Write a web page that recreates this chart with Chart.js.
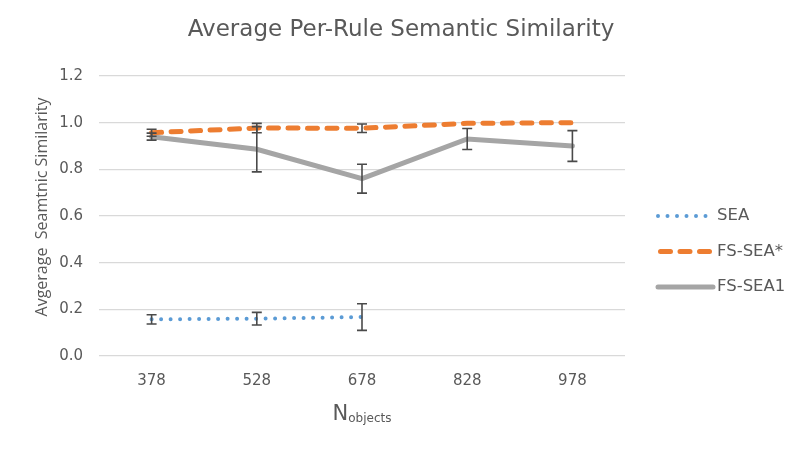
<!DOCTYPE html>
<html>
<head>
<meta charset="utf-8">
<script src="https://cdn.jsdelivr.net/npm/chart.js@4/dist/chart.umd.min.js"></script>
<style>
  html, body { margin: 0; padding: 0; background: #fff; }
  #wrap { width: 800px; height: 449px; }
</style>
</head>
<body>
<div id="wrap"><canvas id="chart"></canvas></div>
<script>
// values
const categories = ['378', '528', '678', '828', '978'];
const seaValues = [0.157, 0.16, 0.167, null, null];
const seaErrors = [0.02, 0.027, 0.057, null, null];
const fsSeaStarValues = [0.957, 0.977, 0.976, 0.997, 1.0];
const fsSeaStarErrors = [0.015, 0.02, 0.018, null, null];
const fsSea1Values = [0.94, 0.886, 0.76, 0.93, 0.9];
const fsSea1Errors = [0.015, 0.097, 0.062, 0.045, 0.066];
const yTicks = [0, 0.2, 0.4, 0.6, 0.8, 1.0, 1.2];

const chartTitle = 'Average Per-Rule Semantic Similarity';
const yTitle = 'Avgerage  Seamtnic Similarity';

const textColor = '#595959';
const wideFont = '"DejaVu Sans", sans-serif';
const openFont = '"Open Sans", "Liberation Sans", sans-serif';

// draws +/- error bars for every dataset that has an errors array
const errorBars = {
  id: 'errorBars',
  afterDatasetsDraw(chart) {
    const ctx = chart.ctx;
    const y = chart.scales.y;
    ctx.save();
    ctx.strokeStyle = '#4a4a4a';
    ctx.lineWidth = 1.6;
    chart.data.datasets.forEach((ds, i) => {
      if (!ds.errors) return;
      const meta = chart.getDatasetMeta(i);
      meta.data.forEach((pt, j) => {
        const v = ds.data[j], e = ds.errors[j];
        if (v == null || e == null) return;
        const x = pt.x;
        const top = y.getPixelForValue(v + e);
        const bot = y.getPixelForValue(v - e);
        ctx.beginPath();
        ctx.moveTo(x, top); ctx.lineTo(x, bot);
        ctx.moveTo(x - 5, top); ctx.lineTo(x + 5, top);
        ctx.moveTo(x - 5, bot); ctx.lineTo(x + 5, bot);
        ctx.stroke();
      });
    });
    ctx.restore();
  }
};

// title, y title, right-hand legend and the subscripted x axis title
const extras = {
  id: 'extras',
  afterDraw(chart) {
    const ctx = chart.ctx;
    const area = chart.chartArea;
    ctx.save();
    ctx.fillStyle = textColor;

    // chart title, centred on the whole picture
    ctx.font = '23px ' + wideFont;
    ctx.textAlign = 'center';
    ctx.textBaseline = 'alphabetic';
    ctx.fillText(chartTitle, 401, 36);

    // y axis title
    ctx.save();
    ctx.translate(42, 207);
    ctx.rotate(-Math.PI / 2);
    ctx.font = '16px ' + openFont;
    ctx.textBaseline = 'middle';
    ctx.fillText(yTitle, 0, 0);
    ctx.restore();

    // legend
    const x0 = 658, x1 = 713;
    const rows = [216, 251.5, 287];
    chart.data.datasets.forEach((ds, i) => {
      const yy = rows[i];
      ctx.beginPath();
      ctx.strokeStyle = ds.borderColor;
      ctx.lineWidth = ds.borderWidth;
      ctx.lineCap = ds.borderCapStyle || 'butt';
      ctx.setLineDash(ds.borderDash || []);
      ctx.lineDashOffset = ds.legendDashOffset || 0;
      ctx.moveTo(x0, yy); ctx.lineTo(x1, yy);
      ctx.stroke();
      ctx.setLineDash([]);
      ctx.font = '16.5px ' + wideFont;
      ctx.textBaseline = 'middle';
      ctx.textAlign = 'left';
      ctx.fillText(ds.label, 717, yy);
    });

    // x axis title: N with subscript "objects"
    ctx.font = '21px ' + wideFont;
    const wN = ctx.measureText('N').width;
    ctx.font = '12px ' + wideFont;
    const wSub = ctx.measureText('objects').width;
    const cx = (area.left + area.right) / 2;
    const start = cx - (wN + wSub) / 2;
    ctx.textBaseline = 'alphabetic';
    ctx.textAlign = 'left';
    ctx.font = '21px ' + wideFont;
    ctx.fillText('N', start, 420);
    ctx.font = '12px ' + wideFont;
    ctx.fillText('objects', start + wN, 422);
    ctx.restore();
  }
};

new Chart(document.getElementById('chart'), {
  type: 'line',
  data: {
    labels: categories,
    datasets: [
      {
        label: 'SEA',
        data: seaValues,
        errors: seaErrors,
        borderColor: '#5B9BD5',
        borderWidth: 4,
        borderDash: [0, 9.5],
        borderCapStyle: 'round',
        pointRadius: 0,
        fill: false,
        tension: 0
      },
      {
        label: 'FS-SEA*',
        data: fsSeaStarValues,
        errors: fsSeaStarErrors,
        borderColor: '#ED7D31',
        borderWidth: 5,
        borderDash: [10, 9.5],
        borderCapStyle: 'round',
        legendDashOffset: -2.5,
        pointRadius: 0,
        fill: false,
        tension: 0
      },
      {
        label: 'FS-SEA1',
        data: fsSea1Values,
        errors: fsSea1Errors,
        borderColor: '#A5A5A5',
        borderWidth: 5,
        borderCapStyle: 'round',
        pointRadius: 0,
        fill: false,
        tension: 0
      }
    ]
  },
  options: {
    responsive: true,
    maintainAspectRatio: false,
    animation: false,
    layout: { padding: { left: 32, right: 175, top: 76, bottom: 0 } },
    plugins: {
      legend: { display: false },
      tooltip: { enabled: false },
      title: { display: false }
    },
    scales: {
      x: {
        type: 'category',
        offset: true,
        grid: { display: false, drawTicks: false },
        border: { display: false },
        ticks: { color: textColor, font: { family: wideFont, size: 15 }, padding: 16 },
        afterFit(scale) { scale.height = 93; }
      },
      y: {
        min: 0,
        max: 1.2,
        afterBuildTicks(scale) { scale.ticks = yTicks.map(v => ({ value: v })); },
        grid: { color: '#d9d9d9', lineWidth: 1.3, drawTicks: false },
        border: { display: false },
        ticks: {
          color: textColor,
          font: { family: wideFont, size: 15 },
          padding: 16,
          callback: v => Number(v).toFixed(1)
        },
        afterFit(scale) { scale.width = 67; }
      }
    }
  },
  plugins: [errorBars, extras]
});
</script>
</body>
</html>
